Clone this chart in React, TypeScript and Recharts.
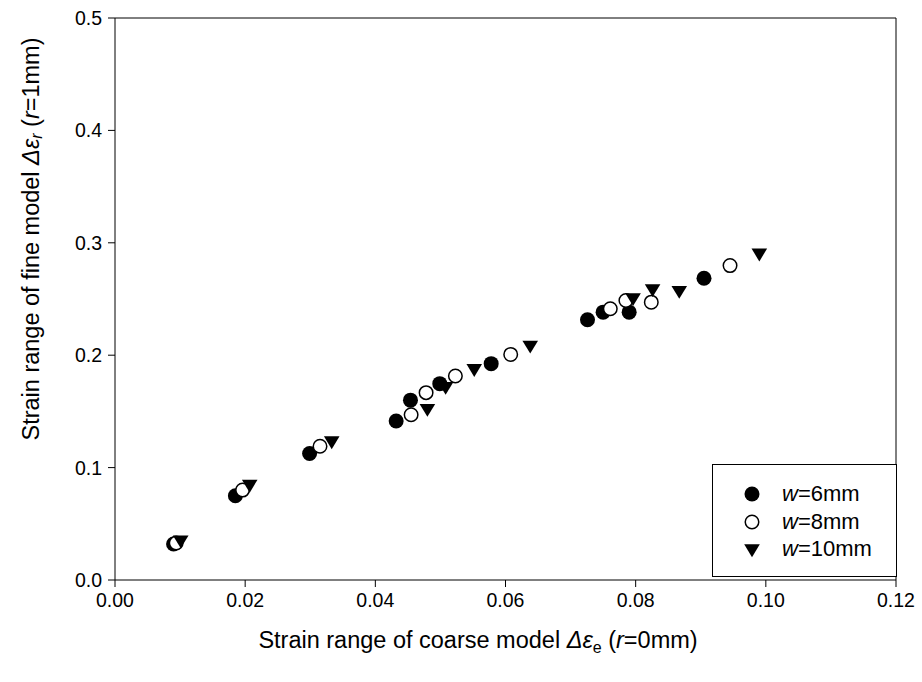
import React from "react";
import { ScatterChart, Scatter, XAxis, YAxis, ReferenceLine } from "recharts";

// coarse-model strain range (x) vs fine-model strain range (y), per groove width
const w6X = [0.009, 0.0185, 0.0299, 0.0432, 0.0454, 0.0499, 0.0578, 0.0726, 0.075, 0.079, 0.0905];
const w6Y = [0.032, 0.075, 0.1125, 0.1415, 0.16, 0.1747, 0.1925, 0.2315, 0.2383, 0.2383, 0.2685];

const w8X = [0.0094, 0.0196, 0.0315, 0.0455, 0.0478, 0.0523, 0.0608, 0.0761, 0.0785, 0.0824, 0.0945];
const w8Y = [0.033, 0.08, 0.119, 0.147, 0.1667, 0.1815, 0.2007, 0.2413, 0.2487, 0.2472, 0.2797];

const w10X = [0.0101, 0.0207, 0.0333, 0.048, 0.0508, 0.0552, 0.0638, 0.0796, 0.0826, 0.0867, 0.099];
const w10Y = [0.0355, 0.085, 0.1237, 0.1525, 0.172, 0.188, 0.2087, 0.251, 0.259, 0.2575, 0.2907];

const xTicks = [0, 0.02, 0.04, 0.06, 0.08, 0.1, 0.12];
const yTicks = [0, 0.1, 0.2, 0.3, 0.4, 0.5];

const widths = ["6", "8", "10"];

const toPoints = (xs: number[], ys: number[]) => xs.map((x, i) => ({ x, y: ys[i] }));

const FONT = "'Liberation Sans', Arial, sans-serif";
const R = 7.5;

const FilledDot = (p: any) => <circle cx={p.cx} cy={p.cy} r={R} fill="#000" />;
const OpenDot = (p: any) => (
  <circle cx={p.cx} cy={p.cy} r={R - 0.75} fill="#fff" stroke="#000" strokeWidth={1.5} />
);
const DownTri = (p: any) => {
  const s = 7.8;
  const { cx, cy } = p;
  return (
    <path
      d={`M${cx - s},${cy - s * 0.6} L${cx + s},${cy - s * 0.6} L${cx},${cy + s * 1.05} Z`}
      fill="#000"
    />
  );
};

const markers = [FilledDot, OpenDot, DownTri];

// legend box sits inside the lower-right corner of the plot frame
const LegendBox = () => (
  <div
    style={{
      position: "absolute",
      left: 712,
      top: 464,
      width: 185,
      height: 113,
      border: "1px solid #000",
      background: "#fff",
      boxSizing: "border-box",
      fontFamily: FONT,
    }}
  >
    {widths.map((w, i) => {
      const Marker = markers[i];
      return (
        <div
          key={w}
          style={{
            position: "absolute",
            left: 25,
            top: 16 + i * 27.5,
            height: 26,
            display: "flex",
            alignItems: "center",
            fontSize: 22,
            color: "#000",
            whiteSpace: "nowrap",
          }}
        >
          <svg width={28} height={26} style={{ display: "block" }}>
            <Marker cx={14} cy={13} />
          </svg>
          <span style={{ marginLeft: 16 }}>
            <i>w</i>={w}mm
          </span>
        </div>
      );
    })}
  </div>
);

const XTitle = () => (
  <text x={478} y={648} textAnchor="middle" fontSize={23.5} fontFamily={FONT} fill="#000">
    Strain range of coarse model <tspan fontStyle="italic">Δε</tspan>
    <tspan fontSize={16} dy={5}>e</tspan>
    <tspan dy={-5}> (</tspan>
    <tspan fontStyle="italic">r</tspan>=0mm)
  </text>
);

const YTitle = () => (
  <text
    x={31}
    y={239}
    transform="rotate(-90, 31, 239)"
    textAnchor="middle"
    dominantBaseline="central"
    fontSize={23.5}
    fontFamily={FONT}
    fill="#000"
  >
    Strain range of fine model <tspan fontStyle="italic">Δε</tspan>
    <tspan fontSize={16} dy={5} fontStyle="italic">r</tspan>
    <tspan dy={-5}> (</tspan>
    <tspan fontStyle="italic">r</tspan>=1mm)
  </text>
);

export default function App() {
  return (
    <div style={{ position: "absolute", left: 0, top: 0, width: 922, height: 682, background: "#fff" }}>
      <ScatterChart
        width={922}
        height={682}
        margin={{ top: 18, right: 26, left: 55, bottom: 52 }}
      >
        <XAxis
          type="number"
          dataKey="x"
          domain={[0, 0.12]}
          ticks={xTicks}
          tickFormatter={(v: number) => v.toFixed(2)}
          height={50}
          tickSize={7}
          tickMargin={6}
          stroke="#000"
          tick={{ fill: "#000", fontSize: 19.5, fontFamily: FONT }}
          label={{ content: () => <XTitle /> }}
        />
        <YAxis
          type="number"
          dataKey="y"
          domain={[0, 0.5]}
          ticks={yTicks}
          tickFormatter={(v: number) => v.toFixed(1)}
          width={60}
          tickSize={7}
          tickMargin={6}
          stroke="#000"
          tick={{ fill: "#000", fontSize: 19.5, fontFamily: FONT }}
          label={{ content: () => <YTitle /> }}
        />
        <ReferenceLine y={0.5} stroke="#000" />
        <ReferenceLine x={0.12} stroke="#000" />
        <Scatter name="w=6mm" data={toPoints(w6X, w6Y)} shape={FilledDot} isAnimationActive={false} />
        <Scatter name="w=8mm" data={toPoints(w8X, w8Y)} shape={OpenDot} isAnimationActive={false} />
        <Scatter name="w=10mm" data={toPoints(w10X, w10Y)} shape={DownTri} isAnimationActive={false} />
      </ScatterChart>
      <LegendBox />
    </div>
  );
}
